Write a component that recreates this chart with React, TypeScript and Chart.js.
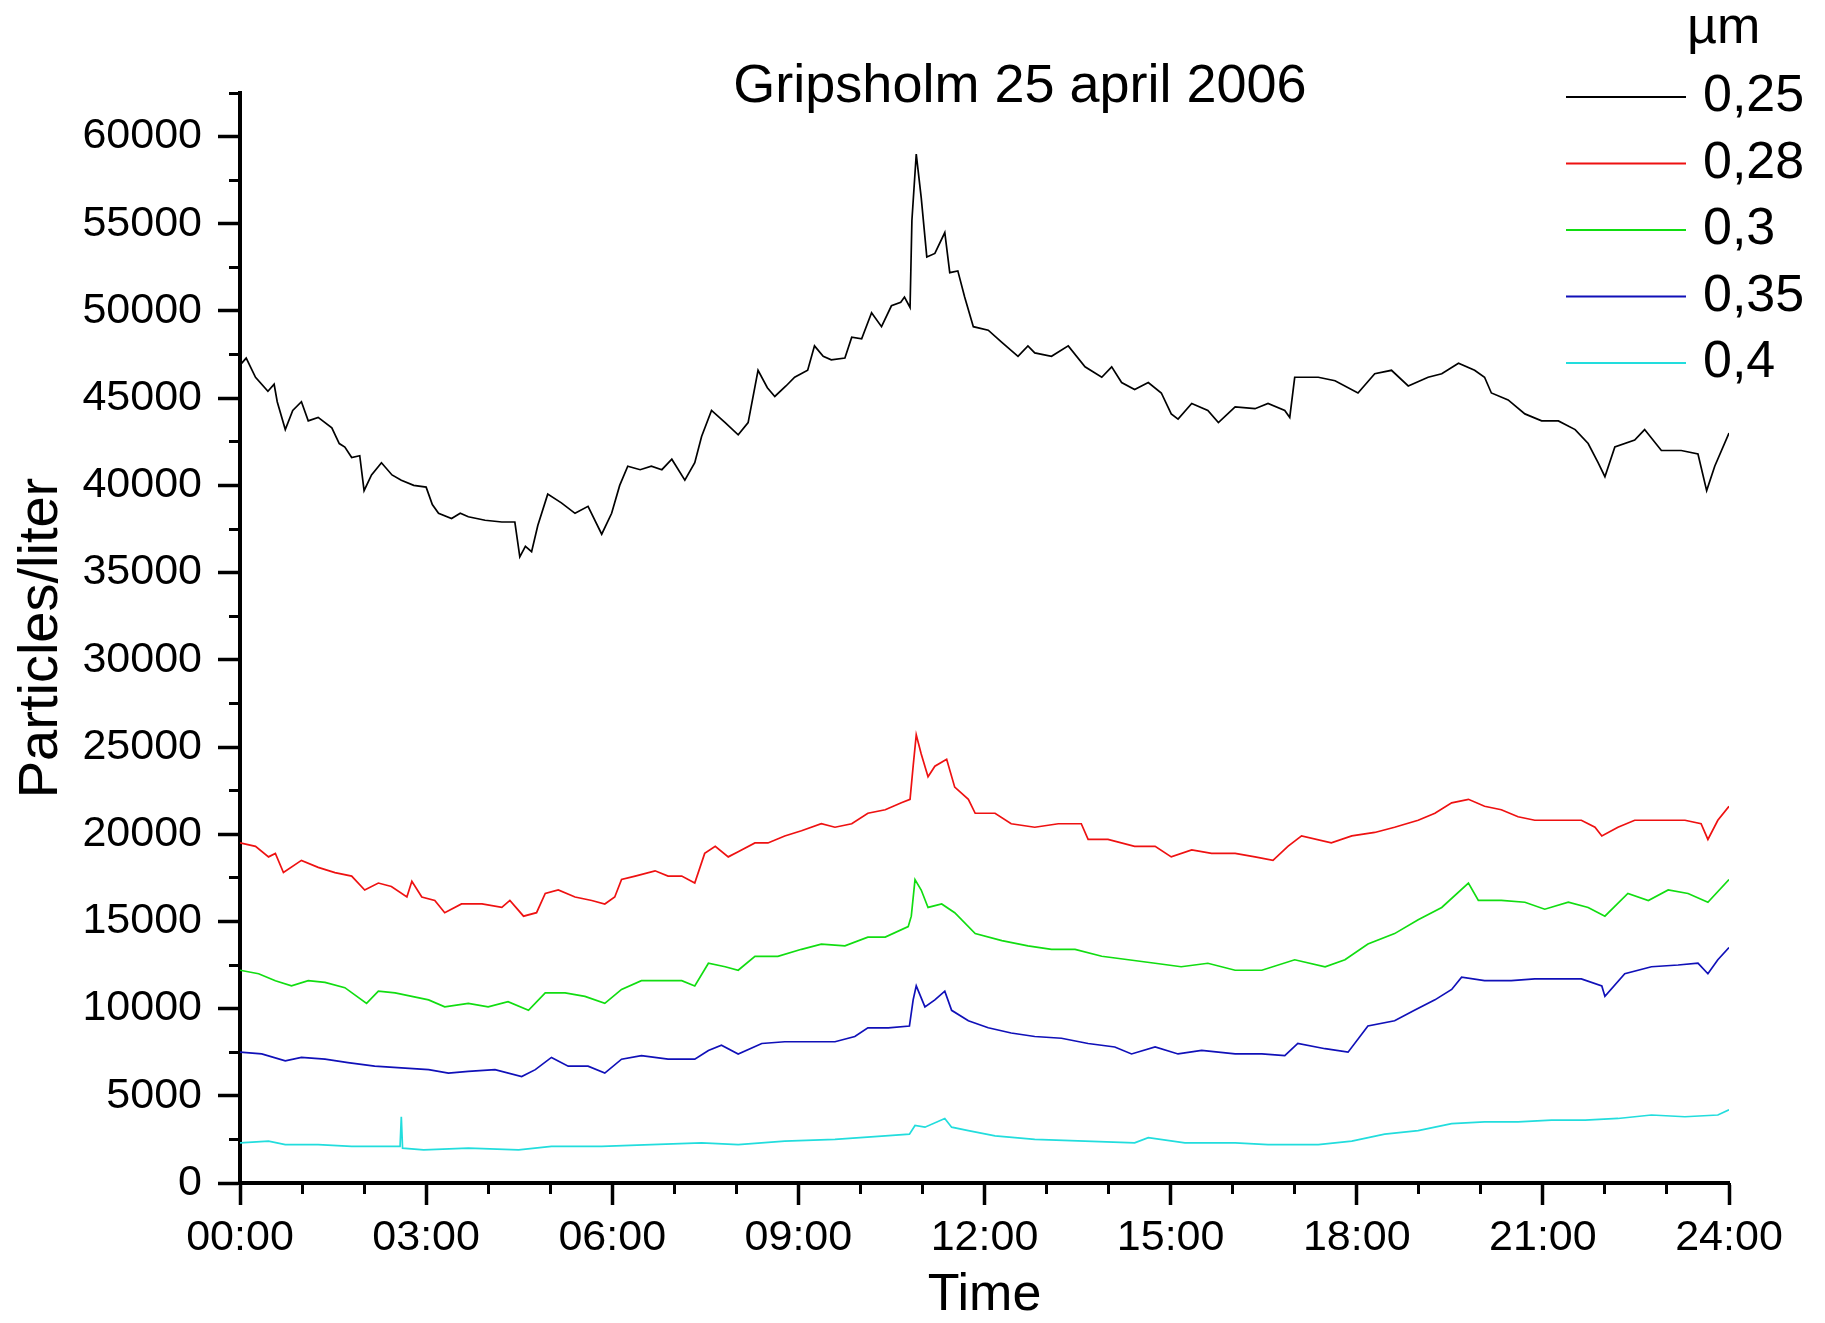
import React, { useEffect, useRef } from 'react';
import { Chart, registerables } from 'chart.js';

Chart.register(...registerables);

const FONT = "'Liberation Sans', Arial, Helvetica, sans-serif";

const chartTitle = 'Gripsholm 25 april 2006';
const xAxisTitle = 'Time';
const yAxisTitle = 'Particles/liter';
const legendTitle = 'µm';
const seriesLabels = ['0,25', '0,28', '0,3', '0,35', '0,4'];
const seriesColors = ['#000000', '#ee1111', '#11dd11', '#1010b8', '#22dddd'];

const xMinHour = 0;
const xMaxHour = 24;
const yMinValue = 0;
const yMaxValue = 62500;
const xMajorTicks = [0, 3, 6, 9, 12, 15, 18, 21, 24];
const xMinorTicks = [0, 1, 2, 3, 4, 5, 6, 7, 8, 9, 10, 11, 12, 13, 14, 15, 16, 17, 18, 19, 20, 21, 22, 23, 24];
const yMajorTicks = [0, 5000, 10000, 15000, 20000, 25000, 30000, 35000, 40000, 45000, 50000, 55000, 60000];
const yMinorTicks = [0, 2500, 5000, 7500, 10000, 12500, 15000, 17500, 20000, 22500, 25000, 27500, 30000, 32500, 35000, 37500, 40000, 42500, 45000, 47500, 50000, 52500, 55000, 57500, 60000, 62500];

// 0,25 µm (black)
const blackHours = [0.0, 0.1, 0.25, 0.45, 0.55, 0.6, 0.73, 0.85, 0.99, 1.1, 1.26, 1.48, 1.6, 1.69, 1.8, 1.93, 2.0, 2.12, 2.28, 2.45, 2.6, 2.8, 3.0, 3.1, 3.2, 3.41, 3.55, 3.68, 3.95, 4.22, 4.43, 4.51, 4.6, 4.7, 4.8, 4.96, 5.18, 5.4, 5.61, 5.83, 5.99, 6.12, 6.25, 6.45, 6.63, 6.8, 6.96, 7.17, 7.33, 7.44, 7.6, 7.82, 8.03, 8.19, 8.35, 8.5, 8.62, 8.8, 8.94, 9.15, 9.26, 9.4, 9.53, 9.75, 9.86, 10.02, 10.18, 10.34, 10.5, 10.65, 10.71, 10.8, 10.83, 10.9, 10.98, 11.07, 11.2, 11.36, 11.44, 11.57, 11.68, 11.82, 12.06, 12.28, 12.54, 12.7, 12.81, 13.08, 13.35, 13.62, 13.89, 14.05, 14.21, 14.42, 14.64, 14.85, 15.01, 15.12, 15.34, 15.6, 15.77, 16.04, 16.36, 16.57, 16.84, 16.92, 17.0, 17.38, 17.65, 18.02, 18.29, 18.56, 18.83, 19.15, 19.37, 19.64, 19.9, 20.06, 20.17, 20.44, 20.71, 20.98, 21.25, 21.52, 21.73, 21.89, 22.0, 22.16, 22.48, 22.64, 22.91, 23.23, 23.5, 23.64, 23.77, 24.0];
const blackValues = [46900, 47300, 46200, 45400, 45800, 44800, 43200, 44300, 44800, 43700, 43900, 43300, 42400, 42200, 41600, 41700, 39700, 40600, 41300, 40600, 40300, 40000, 39900, 38900, 38400, 38100, 38400, 38200, 38000, 37900, 37900, 35900, 36500, 36200, 37700, 39500, 39000, 38400, 38800, 37200, 38400, 40000, 41100, 40900, 41100, 40900, 41500, 40300, 41300, 42800, 44300, 43600, 42900, 43600, 46600, 45600, 45100, 45700, 46200, 46600, 48000, 47400, 47200, 47300, 48500, 48400, 49900, 49100, 50300, 50500, 50800, 50200, 55200, 59000, 56500, 53100, 53300, 54500, 52200, 52300, 50800, 49100, 48900, 48200, 47400, 48000, 47600, 47400, 48000, 46800, 46200, 46800, 45900, 45500, 45900, 45300, 44100, 43800, 44700, 44300, 43600, 44500, 44400, 44700, 44300, 43900, 46200, 46200, 46000, 45300, 46400, 46600, 45700, 46200, 46400, 47000, 46600, 46200, 45300, 44900, 44100, 43700, 43700, 43200, 42400, 41300, 40500, 42200, 42600, 43200, 42000, 42000, 41800, 39700, 41100, 43000];

// 0,28 µm (red)
const redHours = [0.0, 0.25, 0.46, 0.57, 0.7, 0.99, 1.26, 1.53, 1.8, 2.01, 2.23, 2.44, 2.69, 2.77, 2.93, 3.14, 3.3, 3.57, 3.9, 4.22, 4.35, 4.57, 4.78, 4.92, 5.13, 5.4, 5.67, 5.88, 6.04, 6.15, 6.37, 6.69, 6.9, 7.12, 7.33, 7.49, 7.66, 7.87, 8.03, 8.3, 8.51, 8.78, 9.05, 9.37, 9.59, 9.86, 10.12, 10.4, 10.66, 10.8, 10.85, 10.9, 10.98, 11.09, 11.2, 11.39, 11.52, 11.74, 11.85, 12.17, 12.43, 12.81, 13.19, 13.56, 13.67, 13.99, 14.42, 14.75, 15.01, 15.34, 15.66, 16.04, 16.36, 16.65, 16.89, 17.11, 17.59, 17.92, 18.29, 18.61, 18.99, 19.26, 19.53, 19.8, 20.06, 20.33, 20.6, 20.87, 21.25, 21.62, 21.84, 21.95, 22.21, 22.48, 22.91, 23.29, 23.55, 23.66, 23.82, 24.0];
const redValues = [19500, 19300, 18700, 18900, 17800, 18500, 18100, 17800, 17600, 16800, 17200, 17000, 16400, 17300, 16400, 16200, 15500, 16000, 16000, 15800, 16200, 15300, 15500, 16600, 16800, 16400, 16200, 16000, 16400, 17400, 17600, 17900, 17600, 17600, 17200, 18900, 19300, 18700, 19000, 19500, 19500, 19900, 20200, 20600, 20400, 20600, 21200, 21400, 21800, 22000, 23900, 25700, 24600, 23300, 23900, 24300, 22700, 22000, 21200, 21200, 20600, 20400, 20600, 20600, 19700, 19700, 19300, 19300, 18700, 19100, 18900, 18900, 18700, 18500, 19300, 19900, 19500, 19900, 20100, 20400, 20800, 21200, 21800, 22000, 21600, 21400, 21000, 20800, 20800, 20800, 20400, 19900, 20400, 20800, 20800, 20800, 20600, 19700, 20800, 21600];

// 0,3 µm (green)
const greenHours = [0.0, 0.3, 0.57, 0.83, 1.1, 1.37, 1.69, 2.04, 2.23, 2.5, 2.77, 3.04, 3.3, 3.68, 4.0, 4.32, 4.65, 4.92, 5.24, 5.56, 5.88, 6.15, 6.47, 6.8, 7.12, 7.33, 7.55, 7.82, 8.03, 8.3, 8.67, 9.05, 9.37, 9.75, 10.12, 10.4, 10.77, 10.82, 10.88, 10.98, 11.09, 11.31, 11.52, 11.85, 12.28, 12.7, 13.08, 13.46, 13.89, 14.32, 14.75, 15.17, 15.6, 16.04, 16.47, 17.0, 17.49, 17.81, 18.18, 18.61, 18.99, 19.37, 19.8, 19.96, 20.33, 20.71, 21.03, 21.41, 21.73, 22.0, 22.37, 22.7, 23.02, 23.34, 23.66, 24.0];
const greenValues = [12200, 12000, 11600, 11300, 11600, 11500, 11200, 10300, 11000, 10900, 10700, 10500, 10100, 10300, 10100, 10400, 9900, 10900, 10900, 10700, 10300, 11100, 11600, 11600, 11600, 11300, 12600, 12400, 12200, 13000, 13000, 13400, 13700, 13600, 14100, 14100, 14700, 15300, 17400, 16800, 15800, 16000, 15500, 14300, 13900, 13600, 13400, 13400, 13000, 12800, 12600, 12400, 12600, 12200, 12200, 12800, 12400, 12800, 13700, 14300, 15100, 15800, 17200, 16200, 16200, 16100, 15700, 16100, 15800, 15300, 16600, 16200, 16800, 16600, 16100, 17400];

// 0,35 µm (blue)
const blueHours = [0.0, 0.35, 0.73, 0.99, 1.37, 1.74, 2.17, 2.6, 3.04, 3.36, 3.68, 4.11, 4.54, 4.76, 5.02, 5.29, 5.61, 5.88, 6.15, 6.47, 6.9, 7.33, 7.55, 7.76, 8.03, 8.41, 8.78, 9.15, 9.59, 9.91, 10.12, 10.45, 10.79, 10.85, 10.9, 11.04, 11.2, 11.36, 11.47, 11.74, 12.06, 12.43, 12.81, 13.24, 13.67, 14.1, 14.37, 14.75, 15.12, 15.5, 16.04, 16.47, 16.84, 17.05, 17.49, 17.86, 18.18, 18.61, 18.93, 19.26, 19.53, 19.69, 20.06, 20.49, 20.87, 21.25, 21.62, 21.95, 22.0, 22.32, 22.75, 23.18, 23.5, 23.66, 23.82, 24.0];
const blueValues = [7500, 7400, 7000, 7200, 7100, 6900, 6700, 6600, 6500, 6300, 6400, 6500, 6100, 6500, 7200, 6700, 6700, 6300, 7100, 7300, 7100, 7100, 7600, 7900, 7400, 8000, 8100, 8100, 8100, 8400, 8900, 8900, 9000, 10500, 11300, 10100, 10500, 11000, 9900, 9300, 8900, 8600, 8400, 8300, 8000, 7800, 7400, 7800, 7400, 7600, 7400, 7400, 7300, 8000, 7700, 7500, 9000, 9300, 9900, 10500, 11100, 11800, 11600, 11600, 11700, 11700, 11700, 11300, 10700, 12000, 12400, 12500, 12600, 12000, 12800, 13500];

// 0,4 µm (cyan)
const cyanHours = [0.0, 0.46, 0.73, 1.26, 1.8, 2.33, 2.58, 2.6, 2.62, 2.96, 3.68, 4.49, 5.02, 5.83, 6.63, 7.44, 8.03, 8.78, 9.59, 10.4, 10.79, 10.88, 11.04, 11.36, 11.47, 11.74, 12.17, 12.81, 13.62, 14.42, 14.64, 15.23, 16.04, 16.57, 17.38, 17.92, 18.45, 18.99, 19.53, 20.06, 20.6, 21.14, 21.68, 22.21, 22.75, 23.29, 23.82, 24.0];
const cyanValues = [2300, 2400, 2200, 2200, 2100, 2100, 2100, 3800, 2000, 1900, 2000, 1900, 2100, 2100, 2200, 2300, 2200, 2400, 2500, 2700, 2800, 3300, 3200, 3700, 3200, 3000, 2700, 2500, 2400, 2300, 2600, 2300, 2300, 2200, 2200, 2400, 2800, 3000, 3400, 3500, 3500, 3600, 3600, 3700, 3900, 3800, 3900, 4200];

const seriesHours = [blackHours, redHours, greenHours, blueHours, cyanHours];
const seriesValues = [blackValues, redValues, greenValues, blueValues, cyanValues];

const fmtHour = (v: number) => (v < 10 ? '0' : '') + v + ':00';
const setTicks = (list: number[]) => (scale: any) => {
  scale.ticks = list.map((value) => ({ value }));
};

const overlayPlugin = {
  id: 'overlayTexts',
  afterDraw(chart: any) {
    const ctx = chart.ctx;
    ctx.save();
    ctx.fillStyle = '#000';
    ctx.font = `54px ${FONT}`;
    ctx.textAlign = 'center';
    ctx.textBaseline = 'alphabetic';
    ctx.fillText(chartTitle, 1020, 102);

    ctx.font = `52px ${FONT}`;
    ctx.textAlign = 'left';
    ctx.fillText(legendTitle, 1687, 43);
    chart.data.datasets.forEach((ds: any, i: number) => {
      const y = 97 + i * 66.5;
      ctx.strokeStyle = ds.borderColor;
      ctx.lineWidth = 2;
      ctx.beginPath();
      ctx.moveTo(1566, y);
      ctx.lineTo(1686, y);
      ctx.stroke();
      ctx.textBaseline = 'middle';
      ctx.fillStyle = '#000';
      ctx.fillText(ds.label, 1703, y);
    });
    ctx.restore();
  },
};

export default function App() {
  const canvasRef = useRef<HTMLCanvasElement | null>(null);

  useEffect(() => {
    if (!canvasRef.current) return;
    const datasets = seriesLabels.map((label, i) => ({
      label,
      data: seriesHours[i].map((h, j) => ({ x: h, y: seriesValues[i][j] })),
      borderColor: seriesColors[i],
      backgroundColor: seriesColors[i],
      borderWidth: 1.7,
      pointRadius: 0,
      tension: 0,
      fill: false,
      xAxisID: 'x',
      yAxisID: 'y',
    }));

    const chart = new Chart(canvasRef.current, {
      type: 'line',
      data: { datasets },
      plugins: [overlayPlugin],
      options: {
        responsive: false,
        animation: false,
        events: [],
        layout: { padding: { left: 0, top: 93, right: 96, bottom: 0 } },
        plugins: {
          legend: { display: false },
          title: { display: false },
          tooltip: { enabled: false },
        },
        scales: {
          x: {
            type: 'linear',
            position: 'bottom',
            min: xMinHour,
            max: xMaxHour,
            weight: 0,
            afterBuildTicks: setTicks(xMajorTicks),
            border: { display: true, color: '#000', width: 4 },
            grid: { display: true, drawOnChartArea: false, drawTicks: true, tickLength: 22, tickWidth: 3.5, tickColor: '#000' },
            ticks: {
              autoSkip: false,
              maxRotation: 0,
              minRotation: 0,
              padding: 7,
              color: '#000',
              font: { family: FONT, size: 43 },
              callback: (v: any) => fmtHour(Number(v)),
            },
            title: {
              display: true,
              text: xAxisTitle,
              color: '#000',
              font: { family: FONT, size: 52, lineHeight: 1 },
              padding: { top: 0, bottom: 1 },
            },
            afterFit: (scale: any) => { scale.height = 140; },
          },
          xMinor: {
            type: 'linear',
            position: 'bottom',
            min: xMinHour,
            max: xMaxHour,
            weight: -1,
            afterBuildTicks: setTicks(xMinorTicks),
            border: { display: false },
            grid: { display: true, drawOnChartArea: false, drawTicks: true, tickLength: 11, tickWidth: 3, tickColor: '#000' },
            ticks: { display: false },
            afterFit: (scale: any) => { scale.height = 0; },
          },
          y: {
            type: 'linear',
            position: 'left',
            min: yMinValue,
            max: yMaxValue,
            weight: 0,
            afterBuildTicks: setTicks(yMajorTicks),
            border: { display: true, color: '#000', width: 4 },
            grid: { display: true, drawOnChartArea: false, drawTicks: true, tickLength: 22, tickWidth: 3.5, tickColor: '#000' },
            ticks: {
              autoSkip: false,
              padding: 16,
              color: '#000',
              font: { family: FONT, size: 43 },
              callback: (v: any) => String(v),
            },
            title: {
              display: true,
              text: yAxisTitle,
              color: '#000',
              font: { family: FONT, size: 56, lineHeight: 1 },
              padding: { top: 14, bottom: 0 },
            },
            afterFit: (scale: any) => { scale.width = 240; },
          },
          yMinor: {
            type: 'linear',
            position: 'left',
            min: yMinValue,
            max: yMaxValue,
            weight: -1,
            afterBuildTicks: setTicks(yMinorTicks),
            border: { display: false },
            grid: { display: true, drawOnChartArea: false, drawTicks: true, tickLength: 11, tickWidth: 3, tickColor: '#000' },
            ticks: { display: false },
            afterFit: (scale: any) => { scale.width = 0; },
          },
        },
      } as any,
    });

    return () => chart.destroy();
  }, []);

  return (
    <div style={{ position: 'absolute', left: 0, top: 0, width: 1825, height: 1323, background: '#fff' }}>
      <canvas ref={canvasRef} width={1825} height={1323} style={{ display: 'block' }} />
    </div>
  );
}
